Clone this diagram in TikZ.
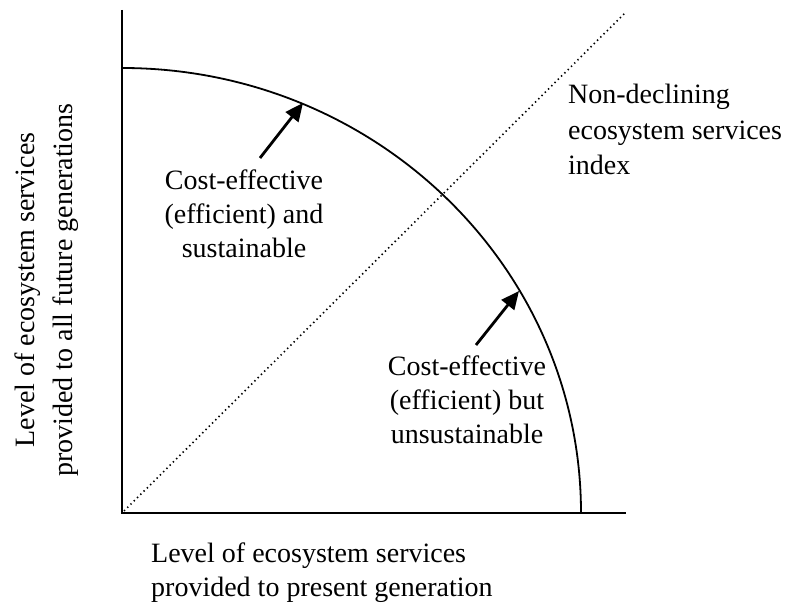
\documentclass[tikz,border=0pt]{standalone}
\usepackage{fontspec}
\setmainfont{Liberation Serif}
\usetikzlibrary{arrows.meta}
\begin{document}
\begin{tikzpicture}[x=1bp,y=1bp,
  axis/.style={line width=2bp, line join=miter},
  frontier/.style={line width=1.8bp},
  diag/.style={line width=1.6bp, dash pattern=on 1.4bp off 3.2bp},
  pointer/.style={line width=2.8bp, -{Triangle[length=18bp,width=16bp]}},
  lbl/.style={font=\fontsize{28bp}{34bp}\selectfont, inner sep=0pt, align=center},
]
\useasboundingbox (0,0) rectangle (788,608);

% axes
\coordinate (O) at (122,95);
\coordinate (ytop) at (122,598);
\coordinate (xend) at (626,95);
\draw[axis] (ytop) -- (O) -- (xend);

% production possibility frontier (quarter ellipse)
\coordinate (fstart) at (122,540);
\draw[frontier] (fstart) arc[start angle=90, end angle=0, x radius=459bp, y radius=445bp];

% non-declining index line
\coordinate (dstart) at (124,97);
\coordinate (dtop) at (626,596);
\draw[diag] (dstart) -- (dtop);

% labels
\node[lbl, anchor=north] (lblA) at (244,438) {Cost-effective\\(efficient) and\\sustainable};
\node[lbl, anchor=north] (lblB) at (467,252) {Cost-effective\\(efficient) but\\unsustainable};
\node[lbl, font=\fontsize{28bp}{35.5bp}\selectfont, align=left, anchor=north west] (lblIdx) at (568,524)
  {Non-declining\\ecosystem services\\index};
\node[lbl, align=left, anchor=north west] (xlbl) at (151,65) {Level of ecosystem services\\provided to present generation};
\node[lbl, font=\fontsize{28bp}{38bp}\selectfont, rotate=90, anchor=center] (ylbl) at (46.5,318)
  {Level of ecosystem services\\provided to all future generations};

% pointers onto the frontier
\coordinate (tailA) at (260,450);
\coordinate (tipA) at (303,505);
\coordinate (tailB) at (476,263);
\coordinate (tipB) at (519,317);
\draw[pointer] (tailA) -- (tipA);
\draw[pointer] (tailB) -- (tipB);
\end{tikzpicture}
\end{document}
